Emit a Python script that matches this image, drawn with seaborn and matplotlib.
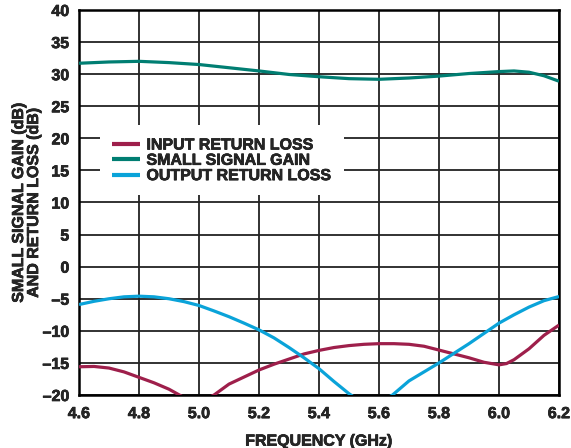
import matplotlib
matplotlib.use("Agg")
import matplotlib.pyplot as plt
import matplotlib.patheffects as pe
import seaborn as sns
import pandas as pd

# Frequency sweep (GHz) and measured responses (dB)
freq_gain = [4.60, 4.70, 4.80, 4.90, 5.00, 5.10, 5.20, 5.30, 5.40, 5.50,
             5.60, 5.70, 5.80, 5.90, 6.00, 6.05, 6.10, 6.15, 6.20]
small_signal_gain = [31.7, 31.9, 32.0, 31.8, 31.5, 31.0, 30.5, 29.95, 29.6, 29.3,
                     29.2, 29.4, 29.7, 30.1, 30.4, 30.5, 30.3, 29.75, 28.9]

freq_in = [4.60, 4.65, 4.70, 4.75, 4.80, 4.85, 4.90, 4.95, 5.00, 5.05, 5.10,
           5.15, 5.20, 5.25, 5.30, 5.35, 5.40, 5.45, 5.50, 5.55, 5.60, 5.65,
           5.70, 5.75, 5.80, 5.85, 5.90, 5.95, 6.00, 6.025, 6.05, 6.10, 6.15, 6.20]
input_return_loss = [-15.6, -15.55, -15.8, -16.4, -17.25, -18.1, -19.1, -20.4, -21.2, -20.0, -18.3,
                     -17.2, -16.1, -15.2, -14.4, -13.6, -13.05, -12.6, -12.3, -12.1, -12.0, -12.0,
                     -12.1, -12.4, -13.0, -13.6, -14.2, -14.9, -15.3, -15.1, -14.5, -12.8, -10.7, -9.1]

freq_out = [4.60, 4.65, 4.70, 4.75, 4.80, 4.85, 4.90, 4.95, 5.00, 5.05, 5.10, 5.15,
            5.20, 5.25, 5.30, 5.35, 5.40, 5.45, 5.50, 5.57, 5.645, 5.70, 5.75,
            5.80, 5.85, 5.90, 5.95, 6.00, 6.05, 6.10, 6.15, 6.20]
output_return_loss = [-5.9, -5.4, -5.0, -4.7, -4.6, -4.7, -5.0, -5.45, -6.05, -6.9, -7.8, -8.8,
                      -9.85, -11.1, -12.6, -14.2, -15.9, -17.9, -19.8, -22.0, -20.0, -17.8, -16.4,
                      -15.0, -13.5, -12.0, -10.4, -8.8, -7.5, -6.3, -5.3, -4.65]

series_names = ["INPUT RETURN LOSS", "SMALL SIGNAL GAIN", "OUTPUT RETURN LOSS"]
series_colors = ["#9E1F4B", "#007E72", "#0AA3D9"]

x_ticks = [4.6, 4.8, 5.0, 5.2, 5.4, 5.6, 5.8, 6.0, 6.2]
y_ticks = list(range(-20, 45, 5))

df = pd.concat([
    pd.DataFrame({"freq": freq_in, "db": input_return_loss, "series": series_names[0]}),
    pd.DataFrame({"freq": freq_gain, "db": small_signal_gain, "series": series_names[1]}),
    pd.DataFrame({"freq": freq_out, "db": output_return_loss, "series": series_names[2]}),
])

sns.set_style("white")
plt.rcParams["font.family"] = "Liberation Sans"
plt.rcParams["font.weight"] = "bold"
FS = 11.5
heavy = [pe.withStroke(linewidth=0.45, foreground="black")]

fig = plt.figure(figsize=(5.71, 4.48), dpi=100)
ax = fig.add_axes([0.1384, 0.1183, 0.8406, 0.8594])

sns.lineplot(data=df, x="freq", y="db", hue="series", hue_order=series_names,
             palette=series_colors, linewidth=2.3, sort=False, estimator=None,
             ax=ax, zorder=3)
for ln in ax.get_lines():
    ln.set_solid_joinstyle("round")
    ln.set_solid_capstyle("butt")

ax.set_xlim(4.6, 6.2)
ax.set_ylim(-20, 40)
ax.set_xticks(x_ticks)
ax.set_xticklabels([f"{t:.1f}" for t in x_ticks], fontsize=FS, fontweight="bold")
ax.set_yticks(y_ticks)
ax.set_yticklabels([str(t).replace("-", "\u2013") for t in y_ticks],
                   fontsize=FS, fontweight="bold")
ax.tick_params(axis="both", length=0)
ax.tick_params(axis="y", pad=7)
ax.tick_params(axis="x", pad=8)

ax.grid(True, color="#222222", linewidth=1.3)
for side in ["left", "right", "top", "bottom"]:
    ax.spines[side].set_visible(True)
    ax.spines[side].set_color("black")
    ax.spines[side].set_linewidth(1.8)

ax.set_xlabel("FREQUENCY (GHz)", fontsize=FS, fontweight="bold", labelpad=9)
ax.set_ylabel("SMALL SIGNAL GAIN (dB)\nAND RETURN LOSS (dB)", fontsize=FS,
              fontweight="bold", labelpad=1, linespacing=1.0)

leg = ax.legend(loc="upper left", bbox_to_anchor=(0.044, 0.70), frameon=True,
                fancybox=False, framealpha=1.0, facecolor="white", edgecolor="none",
                prop={"size": FS, "weight": "bold"}, handlelength=1.75,
                handletextpad=0.4, labelspacing=0.02, borderpad=0.75,
                borderaxespad=0.0)
for h in leg.get_lines():
    h.set_linewidth(3.0)
leg.set_zorder(5)

texts = (ax.get_xticklabels() + ax.get_yticklabels() + leg.get_texts()
         + [ax.xaxis.label, ax.yaxis.label])
for t in texts:
    t.set_path_effects(heavy)

fig.savefig("out.png", dpi=100)
